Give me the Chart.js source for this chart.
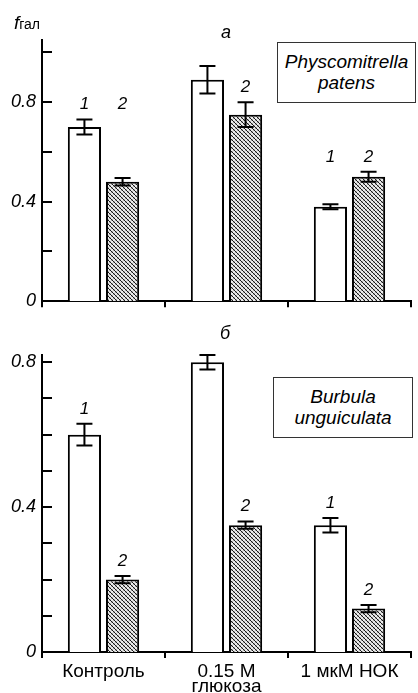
<!DOCTYPE html>
<html lang="ru">
<head>
<meta charset="UTF-8">
<title>f gal</title>
<script src="https://cdn.jsdelivr.net/npm/chart.js"></script>
<style>
  body { margin: 0; background: #fff; font-family: 'Liberation Sans', Arial, sans-serif; }
  #wrap { position: relative; width: 418px; height: 693px; overflow: hidden; }
  canvas { position: absolute; left: 0; }
  #top { top: 0; }
  #bottom { top: 318px; }
  .txt { position: absolute; color: #000; font-style: italic; }
  .box { position: absolute; border: 1px solid #333; background: #fff; text-align: center;
         font-style: italic; font-size: 19px; line-height: 21px; box-sizing: border-box; padding-top: 8px; }
</style>
</head>
<body>
<div id="wrap">
  <canvas id="top" width="418" height="318"></canvas>
  <canvas id="bottom" width="418" height="375"></canvas>

  <div class="txt" style="left:14px;top:12px;"><span style="font-size:19px;">f</span><span style="font-style:normal;font-size:14px;">гал</span></div>
  <div class="txt" style="left:221px;top:22px;font-size:18px;">а</div>
  <div class="txt" style="left:220px;top:323px;font-size:18px;">б</div>
  <div class="box" style="left:277px;top:42px;width:139px;height:61px;">Physcomitrella<br>patens</div>
  <div class="box" style="left:273px;top:377px;width:140px;height:61px;">Burbula<br>unguiculata</div>
</div>

<script>
// categories (x axis)
const categories = ['Контроль', ['0.15 M', 'глюкоза'], '1 мкМ НОК'];

// panel а - Physcomitrella patens
const topSeries1 = [0.70, 0.89, 0.38];
const topSeries2 = [0.48, 0.75, 0.50];
const topErr1 = [0.03, 0.055, 0.01];
const topErr2 = [0.015, 0.05, 0.02];
const topShow1 = [true, false, true];
const topShow2 = [true, true, true];
const topTicks = [0, 0.2, 0.4, 0.6, 0.8, 1.0];
const topLabels = [0, 0.4, 0.8];

// panel б - Burbula unguiculata
const botSeries1 = [0.60, 0.80, 0.35];
const botSeries2 = [0.20, 0.35, 0.12];
const botErr1 = [0.03, 0.02, 0.02];
const botErr2 = [0.01, 0.01, 0.01];
const botShow1 = [true, false, true];
const botShow2 = [true, true, true];
const botTicks = [0, 0.1, 0.2, 0.3, 0.4, 0.5, 0.6, 0.7, 0.8];
const botLabels = [0, 0.4, 0.8];

const family = "'Liberation Sans', Arial, sans-serif";
Chart.defaults.font.family = family;
Chart.defaults.color = '#000';

// cross hatch fill for series 2
function makeHatch() {
  const c = document.createElement('canvas');
  c.width = 4; c.height = 4;
  const g = c.getContext('2d');
  g.fillStyle = '#ececec';
  g.fillRect(0, 0, 4, 4);
  g.strokeStyle = '#1a1a1a';
  g.lineWidth = 1.0;
  g.beginPath();
  g.moveTo(-1, -1); g.lineTo(5, 5);
  g.moveTo(-1, 3); g.lineTo(1, 5);
  g.moveTo(3, -1); g.lineTo(5, 1);
  g.stroke();
  g.strokeStyle = '#888';
  g.lineWidth = 0.6;
  g.beginPath();
  g.moveTo(5, -1); g.lineTo(-1, 5);
  g.stroke();
  return g.createPattern(c, 'repeat');
}
const hatch = makeHatch();

// error bars, in-pointing y ticks and the 1/2 labels
const extras = {
  id: 'extras',
  afterDatasetsDraw(chart, args, opts) {
    const ctx = chart.ctx;
    const y = chart.scales.y;
    const area = chart.chartArea;
    ctx.save();
    ctx.strokeStyle = '#000';
    ctx.lineWidth = 2;
    // y ticks inside the plot
    opts.ticks.forEach(v => {
      const py = Math.round(y.getPixelForValue(v));
      ctx.beginPath();
      ctx.moveTo(area.left, py);
      ctx.lineTo(area.left + 10, py);
      ctx.stroke();
    });
    const tops = [];
    chart.data.datasets.forEach((ds, di) => {
      const meta = chart.getDatasetMeta(di);
      tops[di] = [];
      meta.data.forEach((bar, i) => {
        const v = ds.data[i], e = opts.errors[di][i];
        const y1 = y.getPixelForValue(v + e), y2 = y.getPixelForValue(v - e);
        const cap = 8;
        ctx.beginPath();
        ctx.moveTo(bar.x, y1); ctx.lineTo(bar.x, y2);
        ctx.moveTo(bar.x - cap, y1); ctx.lineTo(bar.x + cap, y1);
        ctx.moveTo(bar.x - cap, y2); ctx.lineTo(bar.x + cap, y2);
        ctx.stroke();
        tops[di][i] = y1;
      });
    });
    ctx.font = 'italic 17px ' + family;
    ctx.fillStyle = '#000';
    ctx.textAlign = 'center';
    ctx.textBaseline = 'middle';
    chart.data.datasets.forEach((ds, di) => {
      const meta = chart.getDatasetMeta(di);
      meta.data.forEach((bar, i) => {
        if (!opts.show[di][i]) return;
        let t = tops[di][i];
        if (opts.pair) {
          tops.forEach((arr, k) => { if (opts.show[k][i]) t = Math.min(t, arr[i]); });
        }
        ctx.fillText(String(di + 1), bar.x, t - 15);
      });
    });
    ctx.restore();
  }
};

function panel(id, s1, s2, e1, e2, sh1, sh2, ticks, labels, max, padTop, xHeight, showX, pair) {
  return new Chart(document.getElementById(id), {
    type: 'bar',
    data: {
      labels: categories,
      datasets: [
        { data: s1, backgroundColor: '#fff', borderColor: '#000', borderWidth: 2 },
        { data: s2, backgroundColor: hatch, borderColor: '#000', borderWidth: 2 }
      ]
    },
    options: {
      responsive: false,
      animation: false,
      datasets: { bar: { categoryPercentage: 0.62, barPercentage: 0.87 } },
      layout: { padding: { left: 0, right: 7, top: padTop, bottom: 0 } },
      plugins: {
        legend: { display: false },
        tooltip: { enabled: false },
        extras: { errors: [e1, e2], show: [sh1, sh2], ticks: ticks, pair: pair }
      },
      scales: {
        x: {
          grid: { display: true, drawOnChartArea: false, drawTicks: true, tickLength: 6, color: '#000', lineWidth: 2, offset: true },
          border: { display: true, color: '#000', width: 2 },
          ticks: { display: showX, padding: 7, maxRotation: 0, autoSkip: false,
                   font: () => ({ family: family, size: 19, lineHeight: 0.75 }) },
          afterFit: s => { s.height = xHeight; }
        },
        y: {
          min: 0, max: max,
          grid: { display: false, drawTicks: false, tickLength: 0 },
          border: { display: true, color: '#000', width: 2 },
          afterBuildTicks: s => { s.ticks = labels.map(v => ({ value: v })); },
          ticks: {
            padding: 6, autoSkip: false,
            font: () => ({ family: family, size: 18, style: 'italic' }),
            callback: v => String(v)
          },
          afterFit: s => { s.width = 42; }
        }
      }
    },
    plugins: [extras]
  });
}

panel('top', topSeries1, topSeries2, topErr1, topErr2, topShow1, topShow2,
      topTicks, topLabels, 1.05, 40, 10, false, true);
panel('bottom', botSeries1, botSeries2, botErr1, botErr2, botShow1, botShow2,
      botTicks, botLabels, 0.82, 37, 41, true, false);
</script>
</body>
</html>
